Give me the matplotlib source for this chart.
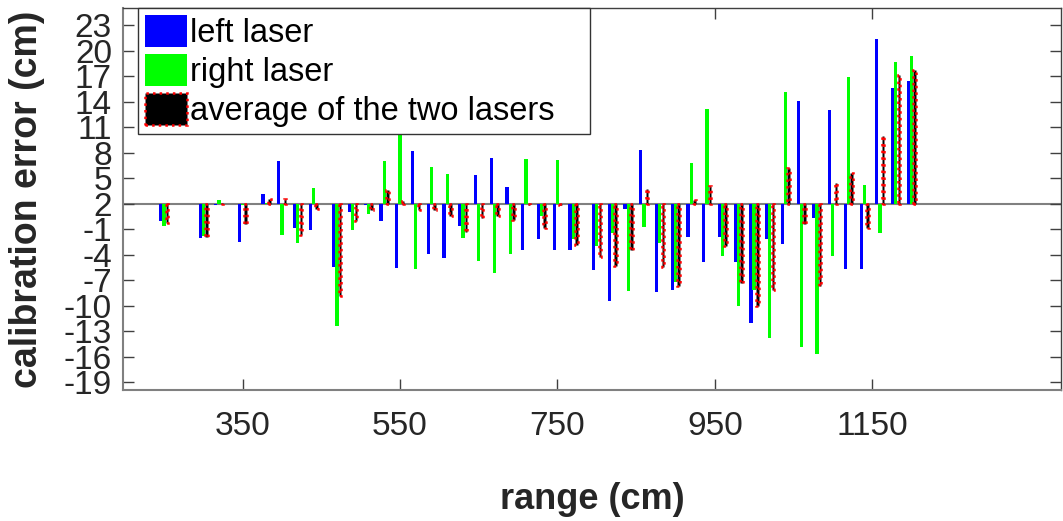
import matplotlib
matplotlib.use('Agg')
import matplotlib.pyplot as plt
import numpy as np

plt.rcParams['font.family'] = ['Liberation Sans', 'DejaVu Sans']

# target range of each measurement (cm)
ranges = [250, 300, 320, 350, 380, 400, 420, 440, 470, 490, 510, 530, 550, 570, 590,
          610, 630, 650, 670, 690, 710, 730, 750, 770, 800, 820, 840, 860, 880, 900,
          920, 940, 960, 980, 1000, 1020, 1040, 1060, 1080, 1100, 1120, 1140, 1160, 1180, 1200]

# calibration error of each laser (cm), relative to the bar baseline
left_err = [-2.0, -4.0, -0.15, -4.5, 1.15, 5.0, -2.8, -3.1, -7.4, -1.0, -0.2, -2.0, -7.6, 6.2, -5.9,
            -6.4, -2.6, 3.4, 5.4, 2.0, -5.5, -4.2, -5.5, -5.45, -7.8, -11.45, -0.6, 6.35, -10.4, -10.2,
            -3.9, -6.9, -3.9, -6.8, -14.0, -4.2, -4.7, 12.1, -1.7, 11.0, -7.65, -7.7, 19.3, 13.6, 14.4]
right_err = [-2.6, -3.8, 0.4, -0.2, 0.1, -3.7, -4.6, 1.8, -14.4, -3.1, -1.2, 5.0, 8.2, -7.7, 4.3,
             3.5, -4.0, -6.7, -8.2, -5.9, 5.2, -1.5, 5.1, -4.2, -5.0, -3.4, -10.3, -2.75, -4.6, -9.25,
             4.8, 11.1, -6.2, -12.0, -10.2, -15.8, 13.1, -16.9, -17.7, -6.15, 14.9, 2.2, -3.4, 16.7, 17.3]
avg_err = [-2.3, -3.9, 0.1, -2.35, 0.6, 0.6, -3.7, -0.6, -10.9, -2.0, -0.7, 1.55, 0.3, -0.75, -0.8,
           -1.45, -3.3, -1.65, -1.4, -1.9, -0.15, -2.85, -0.2, -4.8, -6.3, -7.3, -5.4, 1.75, -7.4, -9.7,
           0.45, 2.1, -5.0, -9.35, -12.0, -10.2, 4.2, -2.35, -9.7, 2.4, 3.65, -2.8, 7.9, 15.15, 15.75]

BASE = 2  # the axis labels put the bar baseline at "2"
ytick_vals = list(range(-19, 24, 3))
xtick_vals = [350, 550, 750, 950, 1150]

W, H = 1063, 521
fig = plt.figure(figsize=(W / 100, H / 100), dpi=100)
ax = fig.add_axes([123 / W, 1 - 390 / H, (1061 - 123) / W, (390 - 8) / H])

x = np.array(ranges, dtype=float)
bw = 4.1
ax.axhline(BASE, color='#808080', lw=1.5, zorder=1.5)
ax.bar(x - 4.0, left_err, width=bw, bottom=BASE, color='#0000ff', label='left laser', zorder=2)
ax.bar(x, right_err, width=bw, bottom=BASE, color='#00ff00', label='right laser', zorder=2)
ax.bar(x + 4.0, avg_err, width=bw * 0.8, bottom=BASE, facecolor='black', edgecolor='red',
       linestyle=':', linewidth=1.8, label='average of the two lasers', zorder=2)

ax.set_xlim(198, 1390)
ax.set_ylim(-19.9, 25.0)
ax.set_xticks(xtick_vals)
ax.set_xticklabels([str(v) for v in xtick_vals])
ax.set_yticks(ytick_vals)
ax.set_yticklabels([str(v) for v in ytick_vals])
ax.tick_params(axis='both', direction='in', length=8, width=1, color='#404040',
               top=True, right=True, labelsize=24, labelcolor='#262626')
ax.tick_params(axis='y', pad=8)
ax.tick_params(axis='x', pad=15)

for side in ['left', 'bottom']:
    ax.spines[side].set_color('#808080')
    ax.spines[side].set_linewidth(1.5)
for side in ['top', 'right']:
    ax.spines[side].set_color('#404040')
    ax.spines[side].set_linewidth(1.0)

ax.set_xlabel('range (cm)', fontsize=26, fontweight='bold', color='#262626')
ax.set_ylabel('calibration error (cm)', fontsize=27, fontweight='bold', color='#262626')
ax.xaxis.set_label_coords(0.5, (390 - 482) / 382)
ax.yaxis.set_label_coords((45 - 123) / 938, 0.5)

leg = ax.legend(loc='upper left', bbox_to_anchor=(15 / 938, 0.5, 452 / 938, 0.5),
                mode='expand', borderaxespad=0, fontsize=23.5, handlelength=1.29,
                handleheight=1.15, handletextpad=0.1, labelspacing=0.15, borderpad=0.2,
                fancybox=False, framealpha=1, edgecolor='#333333')
leg.get_frame().set_linewidth(1.0)
leg.set_zorder(5)

fig.savefig('out.png', dpi=100)
